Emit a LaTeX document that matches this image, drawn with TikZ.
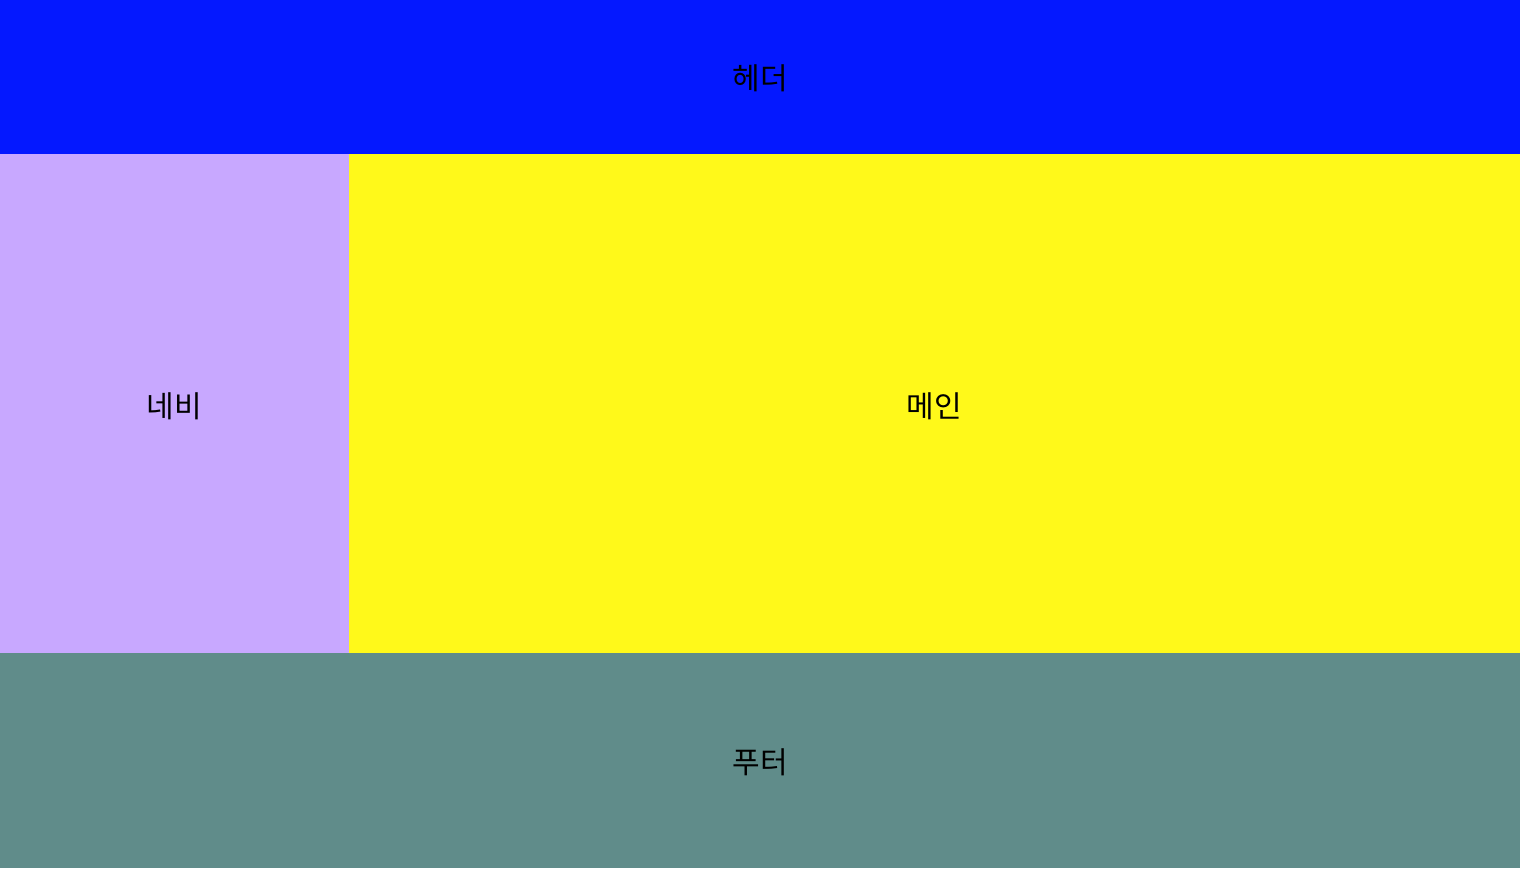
\documentclass[tikz,border=0pt]{standalone}
\usepackage{fontspec}
\newfontfamily\kr{Noto Sans CJK KR}
\definecolor{hdr}{RGB}{4,24,255}
\definecolor{navc}{RGB}{200,168,255}
\definecolor{mainc}{RGB}{255,249,26}
\definecolor{ftr}{RGB}{96,140,138}
\tikzset{
  region/.style={draw=none, inner sep=0pt, outer sep=0pt, font=\kr\fontsize{30}{36}\selectfont, text=black}
}
\begin{document}
\begin{tikzpicture}[x=1pt,y=-1pt]
\useasboundingbox (0,0) rectangle (1520,880);
\fill[white] (0,0) rectangle (1520,880);
\fill[hdr] (0,0) rectangle (1520,154);
\fill[navc] (0,154) rectangle (349,653);
\fill[mainc] (349,154) rectangle (1520,653);
\fill[ftr] (0,653) rectangle (1520,868);
\node[region] (header) at (760,78.5) {헤더};
\node[region] (nav) at (174.5,406) {네비};
\node[region] (main) at (934.5,406) {메인};
\node[region] (footer) at (760,762.5) {푸터};
\end{tikzpicture}
\end{document}
